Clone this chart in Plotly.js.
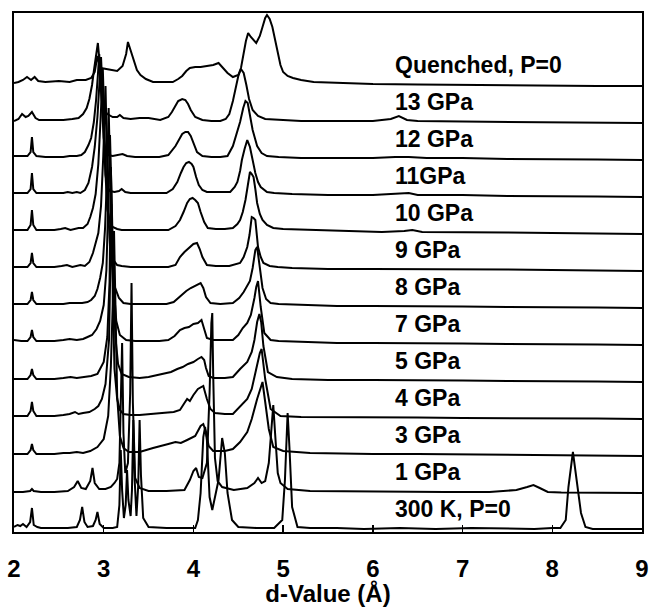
<!DOCTYPE html>
<html><head><meta charset="utf-8">
<script src="https://cdn.plot.ly/plotly-3.0.1.min.js"></script>
<style>html,body{margin:0;padding:0;background:#fff}#chart{width:650px;height:607px}</style>
</head><body><div id="chart"></div>
<script>
// d-value (Å) vs intensity (arb. units) for each pattern, [d, I]
const pQuenched = [[2.00,3],[2.05,4],[2.10,6],[2.145,9],[2.19,6],[2.23,9],[2.27,5],[2.35,4],[2.5,5],[2.62,4],[2.70,6],[2.80,6],[2.86,8],[2.90,14],[2.93,30],[2.95,22],[2.97,18],[3.05,17],[3.15,15],[3.21,20],[3.25,32],[3.27,44],[3.30,36],[3.33,26],[3.37,16],[3.41,11],[3.47,7],[3.55,4],[3.65,4],[3.77,4],[3.83,7],[3.875,10],[3.92,15],[3.96,18],[4.02,19],[4.08,19],[4.15,20],[4.22,21],[4.28,23],[4.33,18],[4.38,13],[4.44,9],[4.50,11],[4.53,18],[4.56,33],[4.585,45],[4.61,53],[4.64,49],[4.70,43],[4.74,50],[4.77,59],[4.80,68],[4.82,71],[4.85,67],[4.88,59],[4.91,47],[4.94,33],[4.97,21],[5.00,14],[5.05,10],[5.11,8],[5.2,6],[5.34,4],[5.6,3],[6.0,2],[6.5,1.5],[7.0,1],[7.5,0.5],[8.0,0],[8.5,0],[9.0,0]];
const p13 = [[2.00,2],[2.05,4],[2.09,9],[2.13,6],[2.16,7],[2.2,11],[2.24,5],[2.28,3],[2.35,3],[2.45,3],[2.55,3],[2.65,4],[2.72,5],[2.77,9],[2.81,15],[2.84,24],[2.87,38],[2.89,52],[2.91,66],[2.925,76],[2.935,80],[2.945,70],[2.96,42],[2.98,22],[3.00,14],[3.04,9],[3.10,6],[3.15,6],[3.18,8],[3.22,5],[3.3,4],[3.4,5],[3.5,5],[3.63,3],[3.72,6],[3.76,11],[3.80,18],[3.83,22],[3.875,24],[3.91,23],[3.94,19],[3.97,13],[4.02,6],[4.1,3],[4.2,2],[4.3,2],[4.36,4],[4.40,9],[4.44,22],[4.47,35],[4.50,47],[4.53,54],[4.56,50],[4.59,38],[4.62,24],[4.66,13],[4.72,7],[4.8,4],[4.95,3],[5.2,2],[5.6,2],[6.0,2],[6.2,4],[6.29,7],[6.38,3],[6.5,2],[7.0,1.5],[7.5,1],[8.0,0.5],[8.5,0.5],[9.0,0]];
const p12 = [[2.00,4],[2.08,4],[2.15,4],[2.185,8],[2.2,23],[2.215,8],[2.25,4],[2.35,3],[2.45,3],[2.55,3],[2.62,4],[2.70,4],[2.75,5],[2.79,8],[2.83,15],[2.86,22],[2.89,38],[2.915,60],[2.935,85],[2.95,106],[2.965,80],[2.98,48],[3.00,22],[3.02,10],[3.05,5],[3.1,4],[3.17,5],[3.21,6],[3.26,4],[3.35,3],[3.5,3],[3.62,3],[3.72,5],[3.8,14],[3.85,22],[3.875,26],[3.91,28],[3.94,28],[3.97,24],[4.00,17],[4.04,8],[4.1,4],[4.2,3],[4.3,3],[4.38,4],[4.44,14],[4.49,28],[4.52,38],[4.555,52],[4.58,59],[4.605,57],[4.63,46],[4.66,30],[4.71,14],[4.76,7],[4.82,4],[4.95,3],[5.2,2],[5.6,2],[6.0,2],[6.25,3],[6.4,3],[6.6,2],[7.0,2],[7.5,1],[8.0,1],[8.5,0.5],[9.0,0]];
const p11 = [[2.00,4],[2.08,4],[2.15,4],[2.185,8],[2.2,24],[2.215,8],[2.25,4],[2.35,4],[2.45,4],[2.55,4],[2.6,5],[2.65,4],[2.70,5],[2.74,4],[2.79,7],[2.83,14],[2.87,30],[2.90,50],[2.93,80],[2.95,115],[2.97,140],[2.985,110],[3.00,60],[3.02,22],[3.04,10],[3.07,6],[3.12,5],[3.17,6],[3.2,8],[3.24,5],[3.3,4],[3.45,4],[3.6,4],[3.7,4],[3.77,8],[3.82,15],[3.86,24],[3.89,30],[3.92,34],[3.95,35],[3.98,33],[4.00,30],[4.03,20],[4.06,12],[4.1,7],[4.15,5],[4.25,5],[4.35,5],[4.41,5],[4.46,10],[4.49,15],[4.52,26],[4.54,37],[4.57,48],[4.60,57],[4.63,50],[4.66,36],[4.69,24],[4.72,15],[4.75,10],[4.82,5],[4.9,4],[5.1,3],[5.5,2],[6.0,2],[6.3,3],[6.4,4],[6.5,2],[7.0,2],[7.5,1],[8.0,1],[8.5,0.5],[9.0,0]];
const p10 = [[2.00,4],[2.08,4],[2.15,4],[2.185,9],[2.2,24],[2.215,9],[2.25,4],[2.35,4],[2.45,4],[2.52,5],[2.57,6],[2.63,4],[2.68,5],[2.72,6],[2.77,6],[2.82,10],[2.85,17],[2.88,26],[2.91,40],[2.94,70],[2.965,115],[2.99,165],[3.005,120],[3.02,60],[3.04,25],[3.07,12],[3.1,7],[3.15,5],[3.2,4],[3.3,4],[3.45,4],[3.6,4],[3.72,4],[3.8,8],[3.85,14],[3.89,22],[3.93,31],[3.96,35],[3.99,36],[4.02,34],[4.05,31],[4.08,22],[4.12,12],[4.16,6],[4.25,5],[4.35,5],[4.44,6],[4.49,10],[4.52,14],[4.55,22],[4.58,34],[4.605,48],[4.63,62],[4.65,60],[4.67,57],[4.69,45],[4.71,31],[4.74,20],[4.77,14],[4.82,9],[4.89,6],[5.0,5],[5.3,4],[5.7,3],[6.1,2],[6.35,3],[6.44,4],[6.55,2],[7.0,2],[7.5,1.5],[8.0,1],[8.5,0.5],[9.0,0]];
const p9 = [[2.00,4],[2.08,4],[2.15,4],[2.185,8],[2.2,18],[2.215,8],[2.25,4],[2.35,4],[2.45,4],[2.53,5],[2.59,6],[2.65,4],[2.70,5],[2.74,6],[2.79,5],[2.84,9],[2.88,18],[2.91,28],[2.94,38],[2.97,65],[2.995,115],[3.02,185],[3.035,130],[3.05,60],[3.07,25],[3.1,12],[3.15,6],[3.2,5],[3.3,4],[3.45,4],[3.6,4],[3.72,4],[3.8,6],[3.85,14],[3.9,19],[3.96,24],[4.00,27],[4.04,28],[4.07,22],[4.1,14],[4.15,6],[4.25,5],[4.4,5],[4.52,8],[4.56,14],[4.6,24],[4.625,36],[4.65,54],[4.67,53],[4.69,51],[4.72,24],[4.75,14],[4.78,8],[4.85,5],[4.94,4],[5.1,3],[5.5,2],[6.0,2],[6.5,2],[7.0,2],[7.5,1.5],[8.0,1],[8.5,0.5],[9.0,0]];
const p8 = [[2.00,4],[2.08,4],[2.15,4],[2.185,8],[2.2,16],[2.215,8],[2.25,4],[2.35,4],[2.45,4],[2.55,4],[2.62,5],[2.7,5],[2.76,5],[2.82,6],[2.86,8],[2.9,12],[2.93,19],[2.96,30],[2.99,45],[3.015,80],[3.04,140],[3.055,200],[3.07,140],[3.09,60],[3.12,22],[3.17,10],[3.22,5],[3.3,4],[3.45,4],[3.6,4],[3.7,4],[3.78,6],[3.85,12],[3.92,17],[3.97,20],[4.02,22],[4.08,25],[4.11,20],[4.14,11],[4.19,5],[4.3,4],[4.44,5],[4.51,10],[4.56,16],[4.6,22],[4.63,27],[4.66,40],[4.69,58],[4.71,61],[4.735,45],[4.77,20],[4.81,9],[4.86,5],[4.95,4],[5.2,3],[5.6,2],[6.0,2],[6.5,2],[7.0,1.5],[7.5,1],[8.0,1],[8.5,0.5],[9.0,0]];
const p7 = [[2.00,5],[2.08,4],[2.15,4],[2.185,8],[2.2,15],[2.215,8],[2.25,4],[2.35,4],[2.45,4],[2.55,5],[2.62,6],[2.7,5],[2.77,6],[2.82,8],[2.87,10],[2.92,16],[2.96,24],[3.0,40],[3.03,75],[3.05,140],[3.07,210],[3.09,140],[3.11,60],[3.14,24],[3.18,10],[3.25,5],[3.35,4],[3.5,4],[3.62,4],[3.72,5],[3.79,9],[3.85,15],[3.9,17],[3.95,18],[4.0,21],[4.05,22],[4.09,25],[4.12,16],[4.15,7],[4.22,5],[4.35,5],[4.44,5],[4.5,10],[4.55,17],[4.6,22],[4.64,30],[4.68,47],[4.70,58],[4.72,64],[4.75,38],[4.79,12],[4.86,5],[4.95,4],[5.2,3],[5.6,2],[6.0,2],[6.5,2],[7.0,1.5],[7.5,1],[8.0,1],[8.5,0.5],[9.0,0]];
const p5 = [[2.00,3],[2.08,3],[2.15,3],[2.185,7],[2.2,13],[2.215,7],[2.25,3],[2.35,3],[2.45,3],[2.55,4],[2.63,5],[2.7,4],[2.78,5],[2.86,6],[2.93,8],[2.96,13],[3.0,20],[3.04,45],[3.065,100],[3.08,215],[3.1,120],[3.13,45],[3.16,18],[3.2,8],[3.28,5],[3.4,4],[3.5,5],[3.6,7],[3.68,9],[3.75,10],[3.82,13],[3.88,15],[3.94,18],[4.0,20],[4.05,23],[4.09,25],[4.12,22],[4.14,14],[4.17,6],[4.22,4],[4.35,4],[4.44,5],[4.52,13],[4.6,20],[4.65,30],[4.68,42],[4.71,60],[4.735,68],[4.755,60],[4.78,36],[4.83,10],[4.93,5],[5.1,3],[5.5,2],[6.0,2],[6.5,2],[7.0,1.5],[7.5,1],[8.0,1],[8.5,0.5],[9.0,0]];
const p4 = [[2.00,3],[2.08,3],[2.15,3],[2.185,8],[2.2,17],[2.215,8],[2.25,3],[2.35,3],[2.45,3],[2.55,4],[2.62,5],[2.68,7],[2.72,5],[2.77,6],[2.84,7],[2.9,10],[2.94,13],[2.98,20],[3.02,35],[3.06,80],[3.085,215],[3.1,130],[3.12,50],[3.15,20],[3.18,9],[3.22,5],[3.3,4],[3.4,4],[3.5,5],[3.65,6],[3.78,7],[3.85,9],[3.9,16],[3.93,20],[3.96,18],[4.0,24],[4.05,30],[4.11,33],[4.15,20],[4.19,10],[4.24,6],[4.35,5],[4.44,5],[4.52,12],[4.6,20],[4.65,30],[4.71,53],[4.74,66],[4.76,70],[4.8,40],[4.86,10],[4.97,3],[5.2,2],[5.6,2],[6.0,2],[6.5,1.5],[7.0,1],[7.5,1],[8.0,0.5],[8.5,0.5],[9.0,0]];
const p3 = [[2.00,2],[2.08,2],[2.15,2],[2.185,6],[2.2,12],[2.215,6],[2.25,2],[2.35,2],[2.45,2],[2.55,3],[2.62,3],[2.7,4],[2.77,3],[2.85,5],[2.93,9],[3.0,17],[3.05,40],[3.08,90],[3.1,150],[3.115,225],[3.13,140],[3.15,60],[3.18,20],[3.22,8],[3.28,4],[3.4,4],[3.55,8],[3.65,10],[3.72,12],[3.8,14],[3.86,13],[3.93,16],[3.98,18],[4.02,20],[4.08,30],[4.11,32],[4.14,24],[4.17,10],[4.22,5],[4.35,5],[4.44,7],[4.52,14],[4.6,24],[4.65,37],[4.71,57],[4.75,70],[4.77,74],[4.8,54],[4.84,27],[4.89,9],[5.0,5],[5.3,3],[5.7,2],[6.0,2],[6.5,2],[7.0,1.5],[7.5,1],[8.0,1],[8.5,0.5],[9.0,0]];
const p1 = [[2.00,1],[2.1,1],[2.18,2],[2.2,4],[2.22,2],[2.3,1],[2.45,1],[2.6,2],[2.67,6],[2.71,12],[2.75,5],[2.8,4],[2.85,12],[2.875,25],[2.9,10],[2.95,4],[3.02,4],[3.08,6],[3.12,10],[3.15,14],[3.175,30],[3.19,100],[3.205,150],[3.22,60],[3.24,20],[3.27,30],[3.295,100],[3.31,210],[3.325,90],[3.35,15],[3.4,5],[3.5,2],[3.7,2],[3.9,3],[3.96,13],[4.0,22],[4.03,25],[4.06,16],[4.1,15],[4.15,30],[4.18,100],[4.2,170],[4.21,180],[4.22,120],[4.24,35],[4.27,12],[4.32,6],[4.45,3],[4.6,5],[4.68,10],[4.72,15],[4.76,10],[4.8,12],[4.84,30],[4.87,70],[4.89,88],[4.91,60],[4.94,20],[4.97,10],[5.05,4],[5.3,2],[5.8,1.5],[6.3,1],[6.8,1],[7.3,1],[7.6,3],[7.72,6],[7.79,8],[7.86,5],[7.95,1],[8.1,0.5],[8.5,0],[9.0,0]];
const p300K = [[2.00,3],[2.04,5],[2.07,4],[2.1,6],[2.14,3],[2.18,8],[2.2,22],[2.22,5],[2.26,3],[2.3,2],[2.45,2],[2.6,2],[2.7,3],[2.735,10],[2.76,23],[2.785,8],[2.82,3],[2.88,4],[2.91,10],[2.93,18],[2.955,6],[3.0,2],[3.1,2],[3.15,3],[3.175,25],[3.19,80],[3.205,40],[3.225,12],[3.245,25],[3.26,60],[3.275,30],[3.3,14],[3.315,40],[3.33,110],[3.345,50],[3.365,14],[3.385,45],[3.40,110],[3.415,55],[3.44,12],[3.5,3],[3.7,2],[3.9,2],[4.02,2],[4.05,10],[4.08,37],[4.11,93],[4.13,103],[4.15,90],[4.18,33],[4.21,20],[4.28,50],[4.32,92],[4.35,77],[4.38,37],[4.43,10],[4.5,3],[4.7,2],[4.9,2],[4.99,10],[5.02,50],[5.05,117],[5.07,83],[5.1,23],[5.16,3],[5.3,2],[5.6,2],[5.9,1],[6.3,2],[6.7,1],[7.1,2],[7.5,1],[7.8,1],[8.0,2],[8.09,2],[8.15,10],[8.18,43],[8.23,78],[8.28,43],[8.32,17],[8.37,3],[8.45,1],[8.7,1],[9.0,1]];

// bottom to top
const patterns = [p300K, p1, p3, p4, p5, p7, p8, p9, p10, p11, p12, p13, pQuenched];
const labels = ["300 K, P=0", "1 GPa", "3 GPa", "4 GPa", "5 GPa", "7 GPa", "8 GPa", "9 GPa", "10 GPa", "11GPa", "12 GPa", "13 GPa", "Quenched, P=0"];
const xTicks = [2, 3, 4, 5, 6, 7, 8, 9];

const SPACING = 37;
const FONT = 'Liberation Sans, Arial, Helvetica, sans-serif';

const traces = patterns.map((p, i) => ({
  x: p.map(q => q[0]),
  y: p.map(q => q[1] + i * SPACING),
  type: 'scatter', mode: 'lines',
  line: {color: '#000', width: 2},
  hoverinfo: 'skip', showlegend: false
}));

const annotations = labels.map((t, i) => ({
  x: 6.22, y: i * SPACING + 21, xref: 'x', yref: 'y',
  text: t, showarrow: false, xanchor: 'left', yanchor: 'middle',
  font: {family: FONT, size: 23, color: '#000', weight: 'bold'}
}));

const layout = {
  width: 650, height: 607,
  margin: {l: 14, r: 8, t: 13, b: 75},
  paper_bgcolor: '#fff', plot_bgcolor: '#fff',
  showlegend: false,
  xaxis: {
    range: [2, 9], tickvals: xTicks, ticktext: xTicks.map(String),
    ticks: 'inside', ticklen: 7, tickwidth: 1.5, tickcolor: '#000',
    showline: true, mirror: true, linecolor: '#000', linewidth: 2,
    showgrid: false, zeroline: false,
    ticklabelstandoff: 14,
    tickfont: {family: FONT, size: 24, color: '#000', weight: 'bold'},
    title: {text: 'd-Value (Å)', standoff: 16, font: {family: FONT, size: 24, color: '#000', weight: 'bold'}}
  },
  yaxis: {
    range: [-2, 517], showticklabels: false, ticks: '',
    showline: true, mirror: true, linecolor: '#000', linewidth: 2,
    showgrid: false, zeroline: false
  },
  annotations: annotations
};

Plotly.newPlot('chart', traces, layout, {displayModeBar: false, staticPlot: true});
</script></body></html>
